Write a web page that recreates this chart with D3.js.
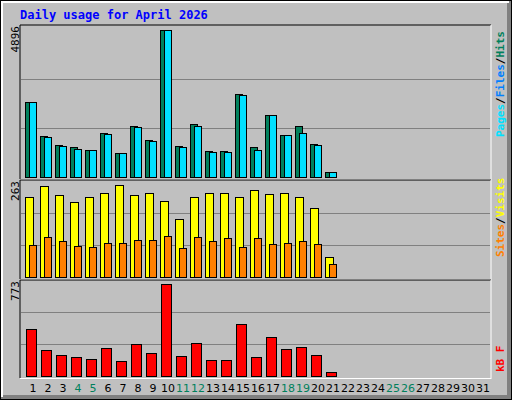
<!DOCTYPE html>
<html><head><meta charset="utf-8">
<script src="https://cdn.jsdelivr.net/npm/d3@7"></script>
<style>body{margin:0;background:#fff}</style>
</head><body>
<script>
// values
var days = d3.range(1, 32)
var weekend = [4, 5, 11, 12, 18, 19, 25, 26]
var hits   = [2471,1342,1043,977,877,1442,777,1674,1209,4896,1010,1740,844,844,2737,977,2039,1375,1674,1076,146]
var files  = [2471,1309,1010,910,877,1408,777,1641,1176,4863,977,1674,810,810,2704,877,2039,1375,1442,1043,146]
var visits = [219,249,222,203,219,230,252,222,228,208,157,217,230,230,219,236,225,228,219,187,53]
var sites  = [86,107,96,83,80,91,91,99,99,110,77,107,96,105,80,105,88,91,96,88,34]
var kbytes = [376,205,165,149,132,222,116,254,181,741,157,262,124,124,416,149,311,214,230,165,27]
var maxHits = 4896, maxVisits = 263, maxKB = 773

var svg = d3.select('body').append('svg').attr('width', 512).attr('height', 400)
  .style('font-family', 'DejaVu Sans Mono, monospace')

// frame with bevel
svg.append('rect').attr('x', 0).attr('y', 0).attr('width', 512).attr('height', 400).attr('fill', '#000')
svg.append('rect').attr('x', 1).attr('y', 1).attr('width', 510).attr('height', 398).attr('fill', '#808080')
svg.append('rect').attr('x', 1).attr('y', 1).attr('width', 508).attr('height', 396).attr('fill', '#fff')
svg.append('rect').attr('x', 3).attr('y', 3).attr('width', 506).attr('height', 394).attr('fill', '#808080')
svg.append('rect').attr('x', 3).attr('y', 3).attr('width', 504).attr('height', 392).attr('fill', '#c0c0c0')

svg.append('text').attr('x', 20).attr('y', 19).text('Daily usage for April 2026')
  .attr('fill', '#0000ff').attr('font-size', 12).attr('font-weight', 'bold')

var x = d3.scaleBand().domain(days).range([25, 490]).paddingInner(0)

function panel (y0, y1) {
  svg.append('line').attr('x1', 20).attr('x2', 491).attr('y1', y0).attr('y2', y0).attr('stroke', '#000')
  svg.append('line').attr('x1', 20).attr('x2', 20).attr('y1', y0).attr('y2', y1).attr('stroke', '#000')
  svg.append('line').attr('x1', 491).attr('x2', 491).attr('y1', y0).attr('y2', y1 + 1).attr('stroke', '#fff')
  svg.append('line').attr('x1', 20).attr('x2', 491).attr('y1', y1 + 0.5).attr('y2', y1 + 0.5).attr('stroke', '#fff')
}

function grid (y) {
  y.ticks ? null : null
  var d = y.domain()[1]
  ;[d / 3, 2 * d / 3].forEach(function (v) {
    svg.append('line').attr('x1', 21).attr('x2', 490).attr('y1', Math.round(y(v)) + 0.5).attr('y2', Math.round(y(v)) + 0.5)
      .attr('stroke', '#808080')
  })
}

function bars (data, y, dx, w, fill) {
  svg.append('g').selectAll('rect').data(data).enter().append('rect')
    .attr('x', function (d, i) { return x(i + 1) + dx + 0.5 })
    .attr('y', function (d) { return Math.round(y(d)) + 0.5 })
    .attr('width', w)
    .attr('height', function (d) { return Math.max(1, Math.round(y(0)) - Math.round(y(d))) })
    .attr('fill', fill).attr('stroke', '#000')
}

function maxLabel (val, yTop) {
  svg.append('text').attr('transform', 'translate(19,' + yTop + ') rotate(-90)')
    .attr('text-anchor', 'end').attr('font-size', 11).attr('fill', '#000').text(val)
}

function sideLabel (yBottom, parts) {
  var t = svg.append('text').attr('transform', 'translate(504,' + yBottom + ') rotate(-90)')
    .attr('font-size', 11).attr('font-weight', 'bold')
  parts.forEach(function (p) { t.append('tspan').attr('fill', p[1]).text(p[0]) })
}

// hits / files
panel(25, 179)
var yH = d3.scaleLinear().domain([0, maxHits]).range([176.5, 29.5])
grid(yH)
bars(hits, yH, 0, 7, '#00805c')
bars(files, yH, 4, 7, '#00e0ff')
maxLabel(maxHits, 26)
sideLabel(137, [['Pages', '#00e0ff'], ['/', '#000'], ['Files', '#0080ff'], ['/', '#000'], ['Hits', '#00805c']])

// visits / sites
panel(180, 279)
var yV = d3.scaleLinear().domain([0, maxVisits]).range([276.5, 180.5])
grid(yV)
bars(visits, yV, 0, 8, '#ffff00')
bars(sites, yV, 4, 7, '#ff8000')
maxLabel(maxVisits, 181)
sideLabel(257, [['Sites', '#ff8000'], ['/', '#000'], ['Visits', '#ffff00']])

// kbytes
panel(280, 378)
var yK = d3.scaleLinear().domain([0, maxKB]).range([375.5, 280.5])
grid(yK)
bars(kbytes, yK, 1, 10, '#ff0000')
maxLabel(maxKB, 281)
sideLabel(372, [['kB F', '#ff0000']])

// day labels
svg.append('g').selectAll('text').data(days).enter().append('text')
  .attr('x', function (d) { return x(d) + 8 })
  .attr('y', 392).attr('text-anchor', 'middle').attr('font-size', 11)
  .attr('font-family', 'DejaVu Sans, sans-serif')
  .attr('fill', function (d) { return weekend.indexOf(d) > -1 ? '#00805c' : '#000' })
  .text(function (d) { return d })
</script>
</body></html>
